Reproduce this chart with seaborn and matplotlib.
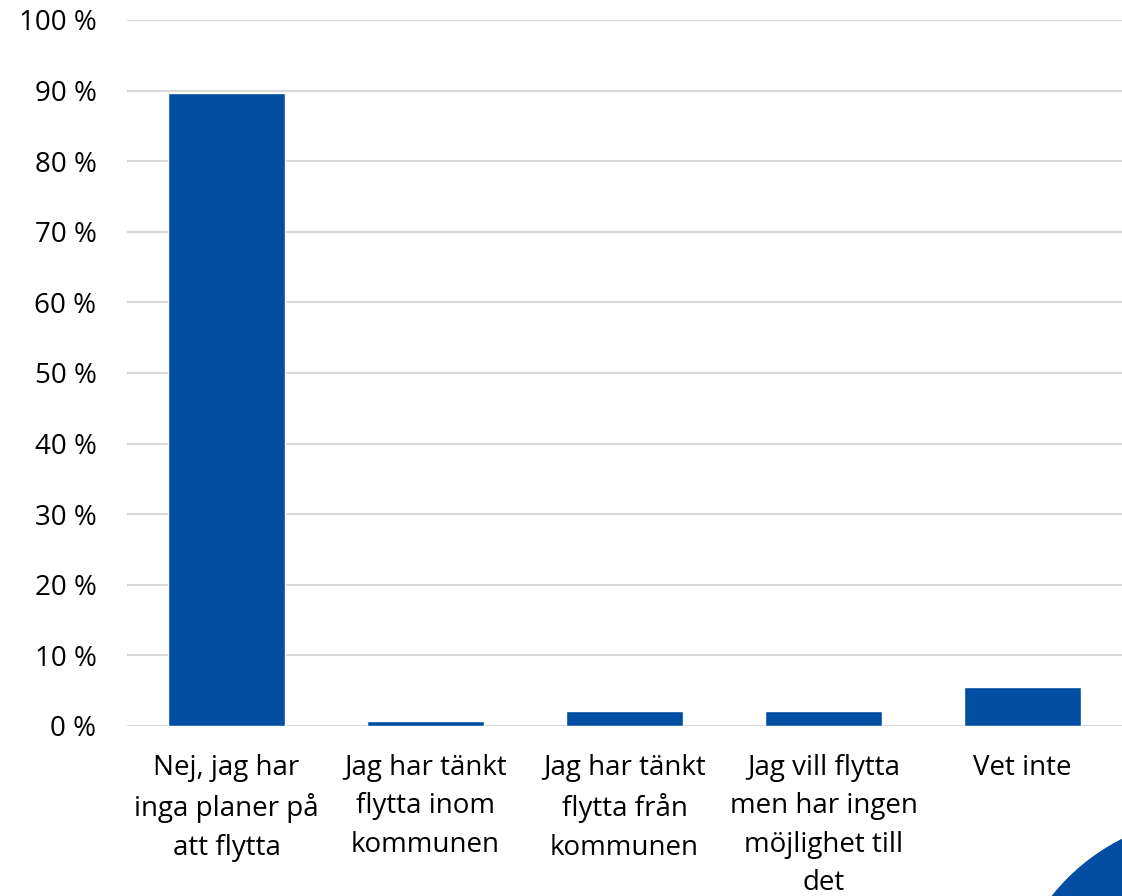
import matplotlib
matplotlib.use("Agg")
import matplotlib.pyplot as plt
import seaborn as sns
import pandas as pd
from matplotlib.patches import Circle
from matplotlib.ticker import FuncFormatter

categories = [
    "Nej, jag har\ninga planer på\natt flytta",
    "Jag har tänkt\nflytta inom\nkommunen",
    "Jag har tänkt\nflytta från\nkommunen",
    "Jag vill flytta\nmen har ingen\nmöjlighet till\ndet",
    "Vet inte",
]
values = [89.6, 0.7, 2.1, 2.1, 5.5]

df = pd.DataFrame({"svar": categories, "andel": values})

sns.set_theme(style="white")
plt.rcParams["font.family"] = ["Open Sans", "DejaVu Sans"]

fig = plt.figure(figsize=(11.22, 8.96), dpi=100)
ax = fig.add_axes([127 / 1122, 1 - 726 / 896, (1122 - 127) / 1122, (726 - 20) / 896])

sns.barplot(data=df, x="svar", y="andel", color="#034EA2", width=0.59,
            saturation=1, ax=ax, zorder=3)

ax.set_ylim(0, 100)
ax.set_yticks(range(0, 101, 10))
ax.yaxis.set_major_formatter(FuncFormatter(lambda v, p: f"{int(v)} %"))
ax.grid(axis="y", color="#D9D9D9", linewidth=1.5, zorder=0)
ax.set_axisbelow(True)
for s in ax.spines.values():
    s.set_visible(False)
ax.tick_params(axis="y", length=0, pad=22, labelsize=20, labelcolor="black")
ax.tick_params(axis="x", length=0, pad=20, labelsize=20, labelcolor="black")
plt.setp(ax.get_xticklabels(), linespacing=1.5)
ax.set_xlabel("")
ax.set_ylabel("")

# decorative circle in the lower right corner
fig.patches.append(Circle((12.166, -1.31), 2.1, transform=fig.dpi_scale_trans,
                          color="#034EA2", zorder=5))

fig.savefig("out.png", dpi=100)
